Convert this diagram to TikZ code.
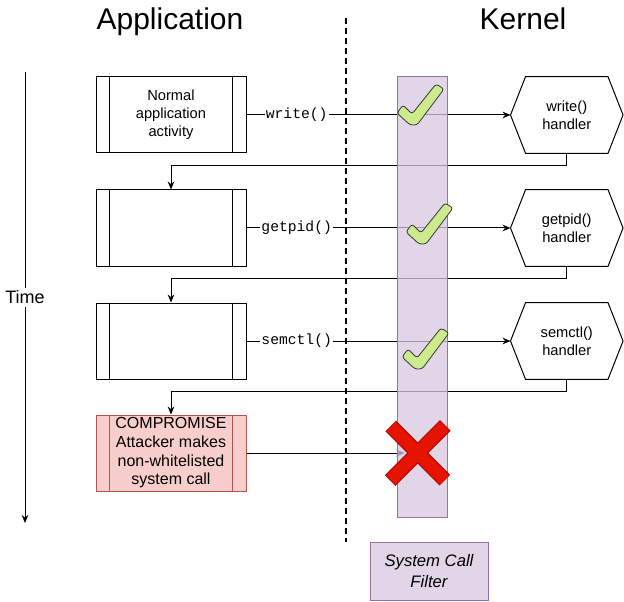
\documentclass[tikz,border=0pt]{standalone}
\usepackage{fontspec}
\setmainfont{Liberation Sans}
\setmonofont{Liberation Mono}
\usetikzlibrary{arrows.meta,positioning,calc}
\definecolor{scFilterFill}{HTML}{D7C7DF}
\definecolor{scFilterDraw}{HTML}{9673A6}
\definecolor{scFilterBox}{HTML}{E1D5E7}
\definecolor{scBadFill}{HTML}{F8CECC}
\definecolor{scBadDraw}{HTML}{B85450}
\definecolor{scOkFill}{HTML}{CDEB8B}
\definecolor{scOkDraw}{HTML}{36393D}
\definecolor{scDenyFill}{HTML}{E51400}
\definecolor{scDenyDraw}{HTML}{B20000}
\newcommand{\okmark}[1]{%
  \filldraw[shift={(#1)}, fill=scOkFill, draw=scOkDraw, line width=0.6pt, rounded corners=2pt]
    (-3,2) -- (-16,-10) -- (-10,-18) -- (-1,-9) -- (23,-39) -- (31,-34) -- (4,2) -- cycle;}
\tikzset{
  procbox/.style={draw, line width=0.75pt, minimum width=112.5pt, minimum height=57pt,
                  align=center, inner sep=0.5pt, font=\fontsize{11}{13.5}\selectfont},
  hexbox/.style={minimum width=84pt, minimum height=57pt, inner sep=2pt,
                 align=center, font=\fontsize{11}{13.5}\selectfont},
  callarr/.style={-{Stealth[length=6pt,width=5pt]}, line width=0.75pt},
  callname/.style={fill=white, inner sep=1pt, font=\ttfamily\fontsize{11}{13}\selectfont},
  titletext/.style={font=\fontsize{22.5}{27}\selectfont, anchor=base},
}
\begin{document}
\begin{tikzpicture}[x=0.75pt, y=-0.75pt]
    \useasboundingbox (0,0) rectangle (624,602);
    % headings and time axis
    \node[titletext] (apptitle) at (170,30) {Application};
    \node[titletext] (kerntitle) at (523,30) {Kernel};
    \coordinate (sept) at (346,18);
    \coordinate (sepb) at (346,542);
    \draw[line width=1.5pt, dash pattern=on 4.5pt off 3pt] (sept) -- (sepb);
    \coordinate (timet) at (25,72);
    \coordinate (timeb) at (25,523);
    \draw[callarr] (timet) -- node[fill=white, inner sep=2pt, font=\fontsize{13.5}{16}\selectfont] (timelbl) {Time} (timeb);
    % application side
    \node[procbox] (p1) at (171,115) {Normal\\application\\activity};
    \node[procbox] (p2) at (171,228) {};
    \node[procbox] (p3) at (171,341) {};
    \node[procbox, draw=scBadDraw, fill=scBadFill,
          font=\fontsize{12}{14}\selectfont] (p4) at (171,453) {COMPROMISE\\Attacker makes\\non-whitelisted\\system call};
    \foreach \p/\c in {p1/black,p2/black,p3/black,p4/scBadDraw} {
      \draw[line width=0.75pt, draw=\c] ([xshift=10.5pt]\p.north west) -- ([xshift=10.5pt]\p.south west);
      \draw[line width=0.75pt, draw=\c] ([xshift=-10.5pt]\p.north east) -- ([xshift=-10.5pt]\p.south east);
    }
    % kernel side
    \node[hexbox, right=198pt of p1] (h1) {write()\\handler};
    \node[hexbox, right=198pt of p2] (h2) {getpid()\\handler};
    \node[hexbox, right=198pt of p3] (h3) {semctl()\\handler};
    \foreach \h in {h1,h2,h3}
      \draw[line width=0.75pt] ([xshift=11.25pt]\h.north west) -- ([xshift=-11.25pt]\h.north east)
        -- (\h.east) -- ([xshift=-11.25pt]\h.south east) -- ([xshift=11.25pt]\h.south west)
        -- (\h.west) -- cycle;
    % calls and returns
    \draw[callarr] (p1) -- node[callname, pos=0.19] (c1) {write()} (h1);
    \draw[callarr] (p2) -- node[callname, pos=0.19] (c2) {getpid()} (h2);
    \draw[callarr] (p3) -- node[callname, pos=0.19] (c3) {semctl()} (h3);
    \draw[callarr] (h1.south) -- ++(0,12) -| (p2.north);
    \draw[callarr] (h2.south) -- ++(0,12) -| (p3.north);
    \draw[callarr] (h3.south) -- ++(0,12) -| (p4.north);
    \node[minimum size=19.5pt, inner sep=0pt, right=118.5pt of p4] (xmark) {};
    \draw[callarr] (p4) -- (xmark);
    % the filter
    \node[draw=scFilterDraw, fill=scFilterFill, fill opacity=0.75, line width=0.75pt,
          minimum width=37.5pt, minimum height=330pt] (filter) at (422,297) {};
    \node[draw=scFilterDraw, fill=scFilterBox, line width=0.75pt, minimum width=88.5pt,
          minimum height=43.5pt, align=center, font=\itshape\fontsize{12.5}{15.5}\selectfont]
          (filterlbl) at (429,571) {System Call\\Filter};
    \okmark{413,123}
    \okmark{422,242}
    \okmark{418,367}
    \draw[scDenyDraw, line width=11.25pt, shorten <=-0.6pt, shorten >=-0.6pt]
      ([shift={(-27,-27)}]xmark.center) -- ([shift={(27,27)}]xmark.center)
      ([shift={(-27,27)}]xmark.center) -- ([shift={(27,-27)}]xmark.center);
    \draw[scDenyFill, line width=9.75pt]
      ([shift={(-27,-27)}]xmark.center) -- ([shift={(27,27)}]xmark.center)
      ([shift={(-27,27)}]xmark.center) -- ([shift={(27,-27)}]xmark.center);
  \end{tikzpicture}
\end{document}
